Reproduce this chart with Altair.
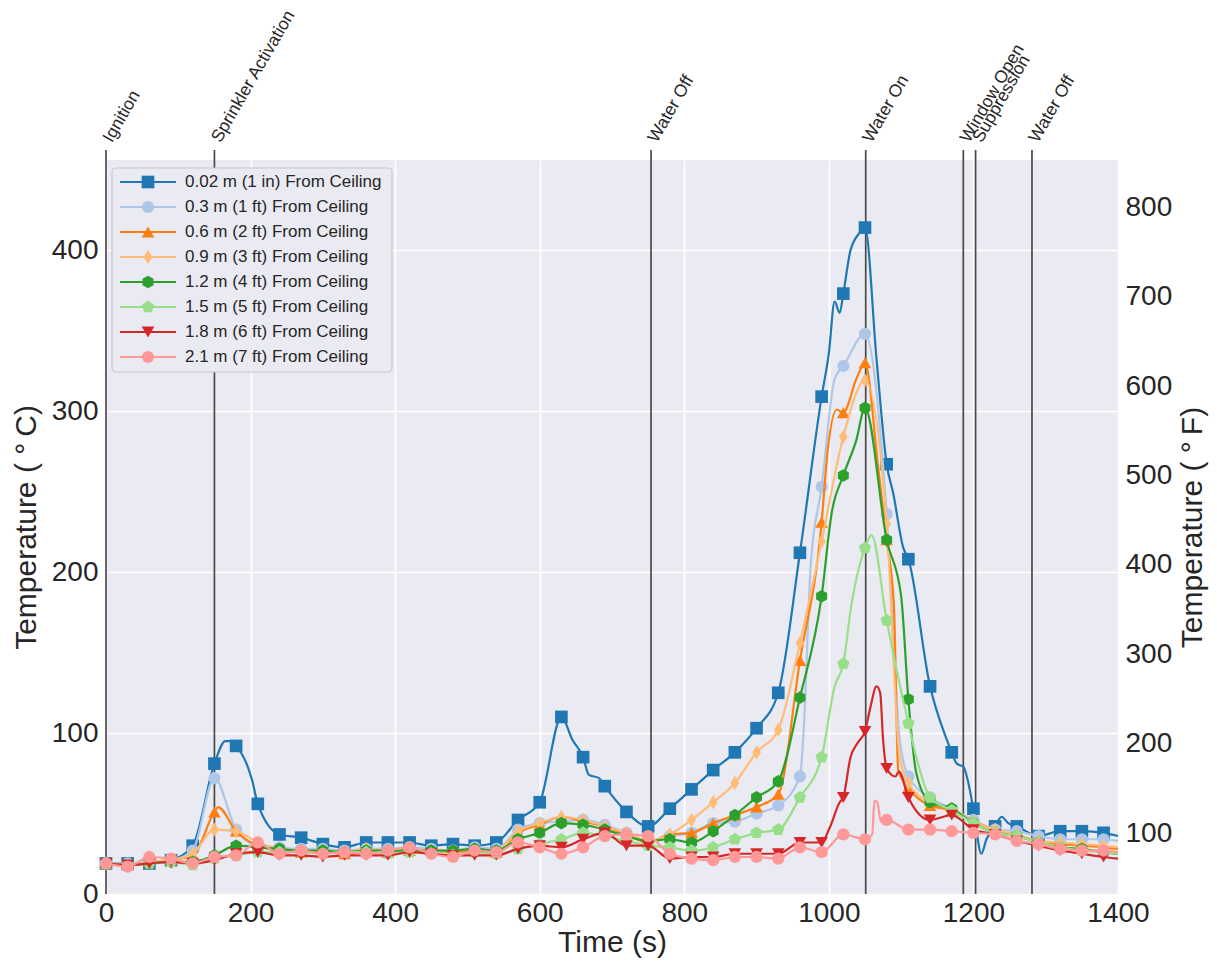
import altair as alt
import pandas as pd

FONT = "Liberation Sans"

# marker times (s)
T_MARK = list(range(0, 1381, 30))

# values at marker times (deg C)
S_002 = [19,19,19,21,30, 81,92,56,37,35, 31,29,32,32,32, 30,31,30,32,46, 57,110,85,67,51,
         42,53,65,77,88, 103,125,212,309,373, 414,267,208,129,88, 53,42,42,36,39, 39,38]
S_03 = [19,19,20,21,27, 72,40,30,29,28, 28,27,28,28,29, 28,27,29,28,40, 44,45,46,43,38,
        33,36,38,44,45, 50,55,73,253,328, 348,236,73,60,53, 46,40,39,36,34, 34,34]
S_06 = [19,18,20,21,24, 51,39,30,27,26, 26,25,27,26,27, 27,26,27,26,38, 43,48,45,42,37,
        32,37,38,44,49, 54,62,145,231,299, 330,220,66,55,52, 45,40,36,33,31, 30,29]
S_09 = [19,18,20,21,25, 40,39,32,28,27, 27,26,28,27,28, 27,27,28,27,39, 44,48,46,42,38,
        33,37,46,57,69, 88,102,156,219,284, 319,230,69,57,53, 45,40,37,33,32, 31,30]
S_12 = [19,18,19,20,20, 24,30,29,28,27, 27,26,27,27,27, 27,27,28,27,34, 38,44,43,40,36,
        33,34,32,39,49, 60,70,122,185,260, 302,220,121,57,53, 44,38,36,32,29, 28,26]
S_15 = [19,18,19,20,18, 22,24,26,26,26, 25,26,26,25,26, 25,24,26,25,28, 31,34,38,36,33,
        30,29,27,29,34, 38,40,60,85,143, 215,170,106,60,52, 44,38,36,32,29, 27,26]
S_18 = [19,18,19,20,19, 21,25,26,24,24, 23,24,24,24,26, 25,24,24,24,28, 30,29,34,38,30,
        30,22,23,23,25, 25,25,32,32,60, 101,78,60,46,49, 40,37,33,30,27, 25,23]
S_21 = [19,17,23,22,19, 23,24,32,25,27, 25,26,25,27,29, 25,23,27,26,32, 29,25,29,36,37,
        36,25,22,21,23, 23,22,29,26,37, 34,46,40,40,39, 38,37,33,31,28, 27,27]

# extra line points between markers (time: value)
X_002 = {165:95, 172:95, 202:71, 645:96, 668:74, 682:72, 1000:336, 1008:368, 1015:361,
         1030:400, 1043:411, 1066:332, 1089:249, 1103:215, 1163:96, 1177:81, 1186:79,
         1211:25, 1218:34, 1239:48, 1248:44, 1400:36}
X_03 = {965:100, 975:205, 1008:320, 1098:96, 1400:33}
X_06 = {155:54, 998:274, 1011:301, 1038:320, 1068:266, 1090:179, 1096:77, 1400:28}
X_09 = {1098:85, 1400:29}
X_12 = {1004:237, 1038:282, 1100:185, 1121:75, 1400:25}
X_15 = {1008:129, 1031:179, 1059:223, 1121:85, 1400:25}
X_18 = {1001:41, 1015:57, 1030:85, 1040:94, 1057:115, 1066:129, 1071:125, 1075:96,
        1092:73, 1097:76, 1400:22}
X_21 = {1060:37, 1063:58, 1067:57, 1072:45, 1400:26}

LABELS = ["0.02 m (1 in) From Ceiling", "0.3 m (1 ft) From Ceiling", "0.6 m (2 ft) From Ceiling",
          "0.9 m (3 ft) From Ceiling", "1.2 m (4 ft) From Ceiling", "1.5 m (5 ft) From Ceiling",
          "1.8 m (6 ft) From Ceiling", "2.1 m (7 ft) From Ceiling"]
COLORS = ["#1f77b4", "#aec7e8", "#ff7f0e", "#ffbb78", "#2ca02c", "#98df8a", "#d62728", "#ff9896"]
HEX = "M0,-1L0.866,-0.5L0.866,0.5L0,1L-0.866,0.5L-0.866,-0.5Z"
PENT = "M0,-1L0.951,-0.309L0.588,0.809L-0.588,0.809L-0.951,-0.309Z"
THIN_DIAMOND = "M0,-1L0.62,0L0,1L-0.62,0Z"
SHAPES = ["square", "circle", "triangle-up", THIN_DIAMOND, HEX, PENT, "triangle-down", "circle"]
SIZES = [160, 150, 160, 200, 160, 170, 160, 150]

EVENT_T = [0, 150, 754, 1051, 1186, 1203, 1281]
EVENT_LABELS = ["Ignition", "Sprinkler Activation", "Water Off", "Water On",
                "Window Open", "Suppression", "Water Off"]

SERIES = [S_002, S_03, S_06, S_09, S_12, S_15, S_18, S_21]
EXTRAS = [X_002, X_03, X_06, X_09, X_12, X_15, X_18, X_21]

W, H = 1012, 734
Y_MAX = 456

X = alt.X("t:Q", scale=alt.Scale(domain=[0, 1400], nice=False, zero=False),
          axis=alt.Axis(values=list(range(0, 1401, 200)), title="Time (s)", labelFlush=False,
                        labelOverlap=False, grid=True, labelPadding=5, titlePadding=0,
                        format="d"))
Y = alt.Y("v:Q", scale=alt.Scale(domain=[0, Y_MAX], nice=False, zero=False),
          axis=alt.Axis(values=[0, 100, 200, 300, 400], title="Temperature ( °\u2009C)", grid=True,
                        labelPadding=8, titlePadding=10, labelOverlap=False, format="d"))

ev_df = pd.DataFrame({"t": EVENT_T, "label": EVENT_LABELS})
ev_rules = alt.Chart(ev_df).mark_rule(color="#4a4a4a", strokeWidth=1.7).encode(
    x=X, y=alt.value(-10), y2=alt.value(H))
ev_text = alt.Chart(ev_df).mark_text(angle=300, align="left", baseline="alphabetic", fontSize=17.5,
                                     font=FONT, color="#262626", dx=0, dy=7).encode(
    x=X, y=alt.value(-20), text="label:N")

layers = [ev_rules]
for vals, extra, col, shp, sz in zip(SERIES, EXTRAS, COLORS, SHAPES, SIZES):
    pts = dict(zip(T_MARK, vals))
    line_pts = dict(pts)
    line_pts.update(extra)
    ts = sorted(line_pts)
    ldf = pd.DataFrame({"t": ts, "v": [line_pts[k] for k in ts]})
    mdf = pd.DataFrame({"t": T_MARK, "v": vals})
    layers.append(alt.Chart(ldf).mark_line(color=col, strokeWidth=2.2,
                                           interpolate="monotone").encode(x=X, y=Y))
    layers.append(alt.Chart(mdf).mark_point(shape=shp, filled=True, size=sz, color=col,
                                            opacity=1).encode(x=X, y=Y))

inner = alt.layer(*layers)

F_MIN, F_MAX = 32, Y_MAX * 9 / 5 + 32
f_df = pd.DataFrame({"F": [F_MIN, F_MAX]})
right_axis = alt.Chart(f_df).mark_point(opacity=0).encode(
    y=alt.Y("F:Q", scale=alt.Scale(domain=[F_MIN, F_MAX], nice=False, zero=False),
            axis=alt.Axis(orient="right", values=[100, 200, 300, 400, 500, 600, 700, 800],
                          title="Temperature ( °\u2009F)", grid=False, titleAngle=270,
                          titleBaseline="top", labelPadding=7, titlePadding=6,
                          labelOverlap=False, format="d")))

leg_df = pd.DataFrame({"label": LABELS, "color": COLORS, "shape": SHAPES, "size": SIZES,
                       "row": list(range(len(LABELS)))})
leg_bg = alt.Chart(pd.DataFrame({"a": [0]})).mark_rect(
    fill="#EAEAF2", stroke="#c8c8c8", strokeWidth=1.2, cornerRadius=4).encode(
    x=alt.value(6), x2=alt.value(286), y=alt.value(8), y2=alt.value(212))
leg_base = alt.Chart(leg_df).transform_calculate(ly="22 + 25 * datum.row")
leg_lines = leg_base.mark_rule(strokeWidth=2.2).encode(
    x=alt.value(14), x2=alt.value(70), y=alt.Y("ly:Q", scale=None),
    color=alt.Color("color:N", scale=None))
leg_pts = leg_base.mark_point(filled=True, opacity=1).encode(
    x=alt.value(42), y=alt.Y("ly:Q", scale=None), color=alt.Color("color:N", scale=None),
    shape=alt.Shape("shape:N", scale=None), size=alt.Size("size:Q", scale=None))
leg_text = leg_base.mark_text(align="left", baseline="middle", fontSize=17, font=FONT,
                              color="#262626").encode(
    x=alt.value(79), y=alt.Y("ly:Q", scale=None), text="label:N")

chart = alt.layer(inner, right_axis, leg_bg, leg_lines, leg_pts, leg_text, ev_text).resolve_scale(
    y="independent"
).properties(
    width=W, height=H,
    autosize=alt.AutoSizeParams(type="none"),
    padding={"left": 98, "top": 152, "right": 91, "bottom": 65},
    background="white",
).configure_view(
    fill="#EAEAF2", stroke=None
).configure_axis(
    domain=False, ticks=False, labelFont=FONT, titleFont=FONT, labelFontSize=28,
    titleFontSize=30, titleFontWeight="normal", labelColor="#262626", titleColor="#262626",
    gridColor="white", gridWidth=1.6
)

chart.save("out.html", embed_options={"renderer": "svg", "actions": False})
